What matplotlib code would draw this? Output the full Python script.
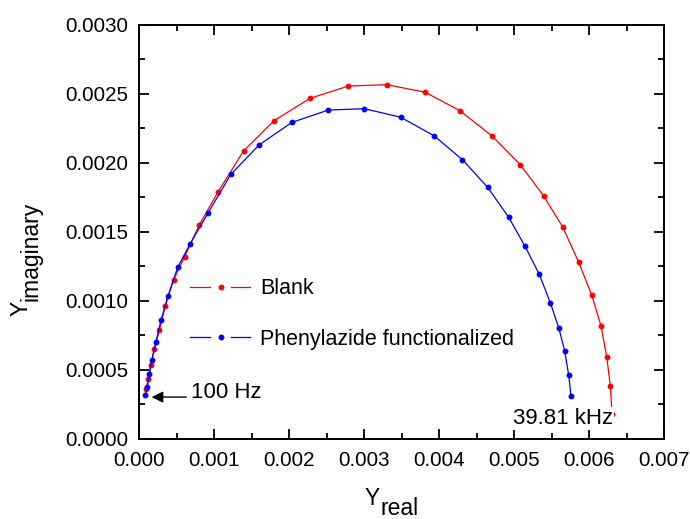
import matplotlib
matplotlib.use("Agg")
import matplotlib.pyplot as plt
from matplotlib.ticker import MultipleLocator, FormatStrFormatter
from matplotlib.legend_handler import HandlerBase
from matplotlib.lines import Line2D

plt.rcParams['font.family'] = ['Liberation Sans', 'DejaVu Sans']

# ---- data ----
blank_x = [0.0000933, 0.000124, 0.000156, 0.000204, 0.000273, 0.000349, 0.000460,
           0.000609, 0.000803, 0.001053, 0.001396, 0.00180, 0.00228, 0.002791,
           0.003303, 0.003817, 0.004280, 0.004707, 0.005084, 0.005396, 0.005649,
           0.005863, 0.006036, 0.006160, 0.006236, 0.006284, 0.006307]
blank_y = [0.000357, 0.000429, 0.000530, 0.000651, 0.000786, 0.000957, 0.001149,
           0.001317, 0.001547, 0.001786, 0.002085, 0.002303, 0.002465, 0.002554,
           0.002564, 0.002509, 0.002375, 0.002192, 0.001984, 0.001757, 0.001533,
           0.001277, 0.001040, 0.000817, 0.000593, 0.000383, 0.000178]

phenyl_x = [0.000084, 0.000111, 0.000137, 0.000173, 0.000227, 0.000293, 0.000387,
            0.000516, 0.000684, 0.000923, 0.001224, 0.001603, 0.00204, 0.002524,
            0.003004, 0.003489, 0.003933, 0.004313, 0.004649, 0.004929, 0.005147,
            0.005337, 0.005484, 0.005596, 0.005676, 0.005729, 0.005760]
phenyl_y = [0.000313, 0.000371, 0.000464, 0.000571, 0.000701, 0.000857, 0.001033,
            0.001241, 0.001413, 0.001636, 0.001914, 0.002128, 0.002291, 0.002380,
            0.002390, 0.002328, 0.002194, 0.002020, 0.001820, 0.001603, 0.001393,
            0.001190, 0.000984, 0.000803, 0.000634, 0.000460, 0.000308]

series_labels = ["Blank", "Phenylazide functionalized"]
low_freq_label = "100 Hz"
high_freq_label = "39.81 kHz"

RED = '#FF0000'
BLUE = '#0000FF'


class GapLineHandler(HandlerBase):
    """Origin-style legend symbol: line - dot - line with gaps."""
    def create_artists(self, legend, orig_handle, xdescent, ydescent, width,
                       height, fontsize, trans):
        y = height / 2 - ydescent
        x0 = -xdescent
        c = orig_handle.get_color()
        lw = orig_handle.get_linewidth()
        l1 = Line2D([x0, x0 + width * 0.34], [y, y], color=c, lw=lw)
        l2 = Line2D([x0 + width * 0.68, x0 + width], [y, y], color=c, lw=lw)
        m = Line2D([x0 + width * 0.51], [y], ls='none', marker='o',
                   markersize=orig_handle.get_markersize(), color=c, mec=c)
        for a in (l1, l2, m):
            a.set_transform(trans)
        return [l1, l2, m]


fig = plt.figure(figsize=(6.9, 5.19), dpi=100)
ax = fig.add_axes([139 / 690, 1 - 438.5 / 519, 525 / 690, 414 / 519])

h1, = ax.plot(blank_x, blank_y, '-o', color=RED, lw=0.9, ms=3.2, mec=RED, zorder=3)
h2, = ax.plot(phenyl_x, phenyl_y, '-o', color=BLUE, lw=0.9, ms=3.2, mec=BLUE, zorder=4)

ax.set_xlim(0, 0.007)
ax.set_ylim(0, 0.003)
ax.xaxis.set_major_locator(MultipleLocator(0.001))
ax.xaxis.set_minor_locator(MultipleLocator(0.0005))
ax.yaxis.set_major_locator(MultipleLocator(0.0005))
ax.yaxis.set_minor_locator(MultipleLocator(0.00025))
ax.xaxis.set_major_formatter(FormatStrFormatter('%.3f'))
ax.yaxis.set_major_formatter(FormatStrFormatter('%.4f'))

ax.tick_params(which='both', direction='in', top=True, right=True, width=1.3)
ax.tick_params(which='major', length=7.5, labelsize=14.8)
ax.tick_params(which='minor', length=4)
ax.tick_params(axis='x', which='major', pad=9)
ax.tick_params(axis='y', which='major', pad=7.5)
for s in ax.spines.values():
    s.set_linewidth(1.4)

# axis labels (same-size subscripts as in the reference)
lab_fs = 16.5
xl_x, xl_y = (380 - 139) / 525, (438.5 - 505) / 414
ax.annotate("Y", xy=(xl_x, xl_y), xycoords='axes fraction',
            ha='right', va='baseline', fontsize=lab_fs, annotation_clip=False)
ax.annotate("real", xy=(xl_x, xl_y), xycoords='axes fraction',
            xytext=(0, -7.2), textcoords='offset points',
            ha='left', va='baseline', fontsize=lab_fs, annotation_clip=False)
yl_x, yl_y = (28 - 139) / 525, (438.5 - 301) / 414
ax.annotate("Y", xy=(yl_x, yl_y), xycoords='axes fraction',
            ha='right', va='baseline', rotation=90, rotation_mode='anchor',
            fontsize=lab_fs, annotation_clip=False)
ax.annotate("imaginary", xy=(yl_x, yl_y), xycoords='axes fraction',
            xytext=(7.2, 0), textcoords='offset points',
            ha='left', va='baseline', rotation=90, rotation_mode='anchor',
            fontsize=lab_fs, annotation_clip=False)

# legend
leg = ax.legend([h1, h2], series_labels, loc='center left',
                bbox_to_anchor=(0.097, 0.3008), borderaxespad=0, borderpad=0,
                frameon=False, fontsize=15.5, handlelength=2.8,
                handletextpad=0.45, labelspacing=1.35,
                handler_map={Line2D: GapLineHandler()})

# annotations
ax.annotate("", xy=(0.000169, 0.000300), xytext=(0.000630, 0.000300),
            arrowprops=dict(arrowstyle='-|>', color='black', lw=1.0,
                            mutation_scale=17, shrinkA=0, shrinkB=0),
            zorder=6)
ax.text(0.000693, 0.000291, low_freq_label, fontsize=16, ha='left',
        va='baseline', zorder=6)
ax.text(0.004987, 0.000105, high_freq_label, fontsize=16, ha='left',
        va='baseline', zorder=6,
        bbox=dict(facecolor='white', edgecolor='none', pad=1.0))

fig.savefig('out.png', dpi=100)
